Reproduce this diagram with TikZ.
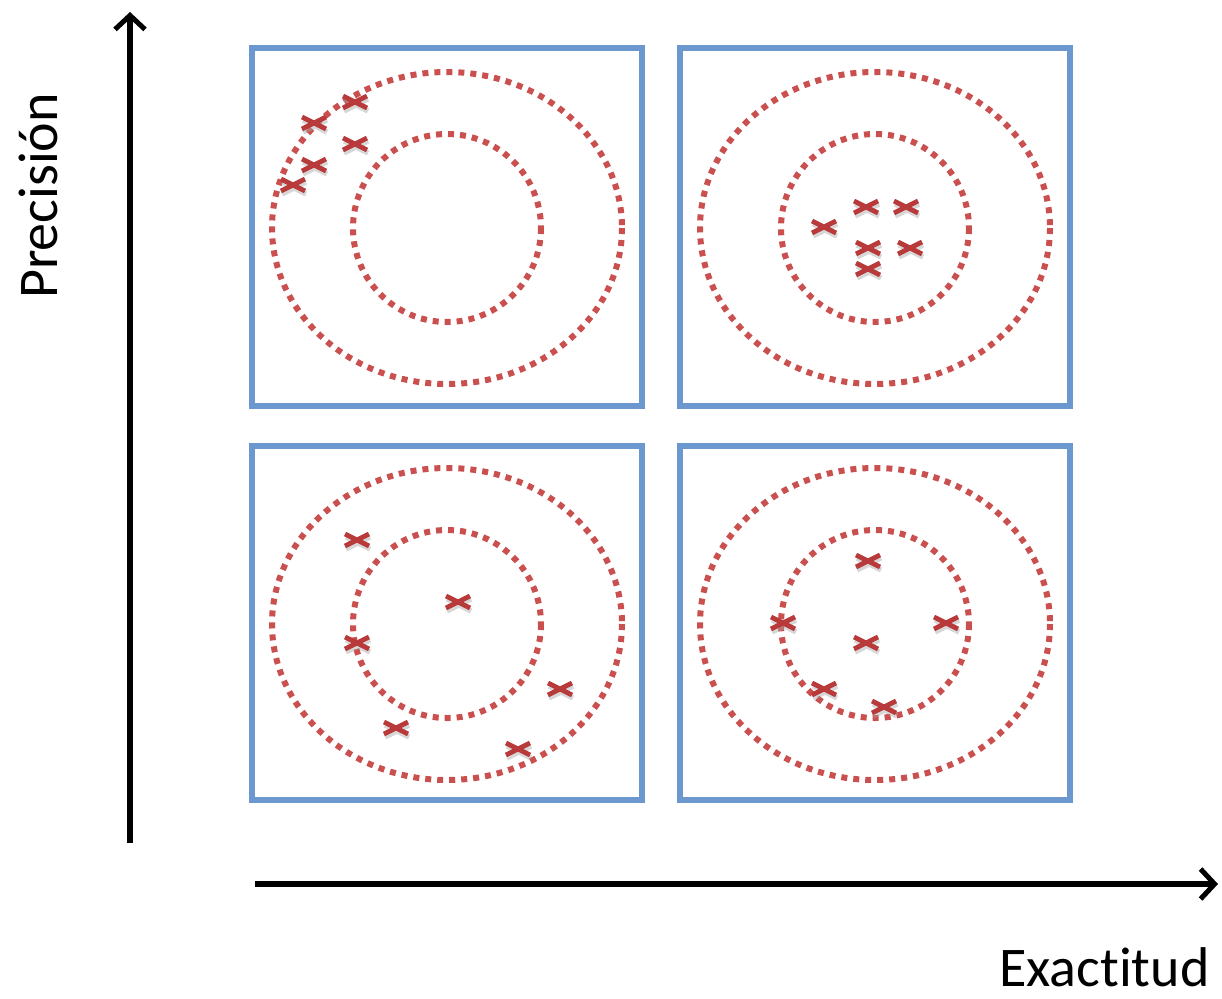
\documentclass[tikz,border=0pt]{standalone}
\usepackage{fontspec}
\setmainfont[Ligatures=NoCommon]{Carlito}
\usetikzlibrary{arrows.meta}
\definecolor{boxblue}{HTML}{6A98CF}
\definecolor{ringred}{HTML}{C9504F}
\definecolor{crossred}{HTML}{B83A3A}
\tikzset{
  panel/.style={draw=boxblue, line width=2.6pt},
  ring/.style={draw=ringred, line width=3pt, dash pattern=on 3pt off 3pt},
  axis/.style={line width=3pt, -{Straight Barb[length=7pt,width=15pt,line width=2.5pt]}},
  lbl/.style={font=\fontsize{28}{32}\selectfont, inner sep=0pt}
}
\newcommand{\xmark}[2]{%
  \draw[black!35, line width=2.6pt, opacity=0.45] (#1+1,#2+3) ++(-12,-6) -- ++(24,12) ++(0,-12) -- ++(-24,12);
  \draw[crossred, line width=2.4pt] (#1,#2) ++(-12,-6) -- ++(24,12) ++(0,-12) -- ++(-24,12);
}
\begin{document}
\begin{tikzpicture}[x=0.5pt,y=-0.5pt]
\useasboundingbox (0,0) rectangle (1222,998);
% panels
\node[panel, draw, minimum width=195pt, minimum height=179pt, inner sep=0pt] (p1) at (447,227) {};
\node[panel, draw, minimum width=195pt, minimum height=179pt, inner sep=0pt] (p2) at (875,227) {};
\node[panel, draw, minimum width=195pt, minimum height=177pt, inner sep=0pt] (p3) at (447,623) {};
\node[panel, draw, minimum width=195pt, minimum height=177pt, inner sep=0pt] (p4) at (875,623) {};
% rings
\foreach \cx/\cy in {447/228, 875/228, 447/624, 875/624}{
  \draw[ring] (\cx,\cy) ellipse [x radius=175, y radius=156];
  \draw[ring] (\cx,\cy) ellipse [x radius=94, y radius=94];
}
% crosses
\xmark{355}{102}\xmark{314}{123}\xmark{355}{144}\xmark{314}{165}\xmark{293}{185}
\xmark{824}{227}\xmark{866}{207}\xmark{906}{207}\xmark{868}{248}\xmark{910}{248}\xmark{868}{269}
\xmark{357}{540}\xmark{458}{602}\xmark{357}{643}\xmark{560}{689}\xmark{396}{728}\xmark{518}{749}
\xmark{868}{561}\xmark{783}{623}\xmark{946}{623}\xmark{866}{643}\xmark{824}{689}\xmark{884}{707}
% axes
\coordinate (ya) at (130,843);
\coordinate (yb) at (130,12);
\coordinate (xa) at (255,884);
\coordinate (xb) at (1218,884);
\draw[axis] (ya) -- (yb);
\draw[axis] (xa) -- (xb);
\node[lbl, rotate=90] (yl) at (38,196) {Precisión};
\node[lbl, anchor=base east] (xl) at (1210,986) {Exactitud};
\end{tikzpicture}
\end{document}
